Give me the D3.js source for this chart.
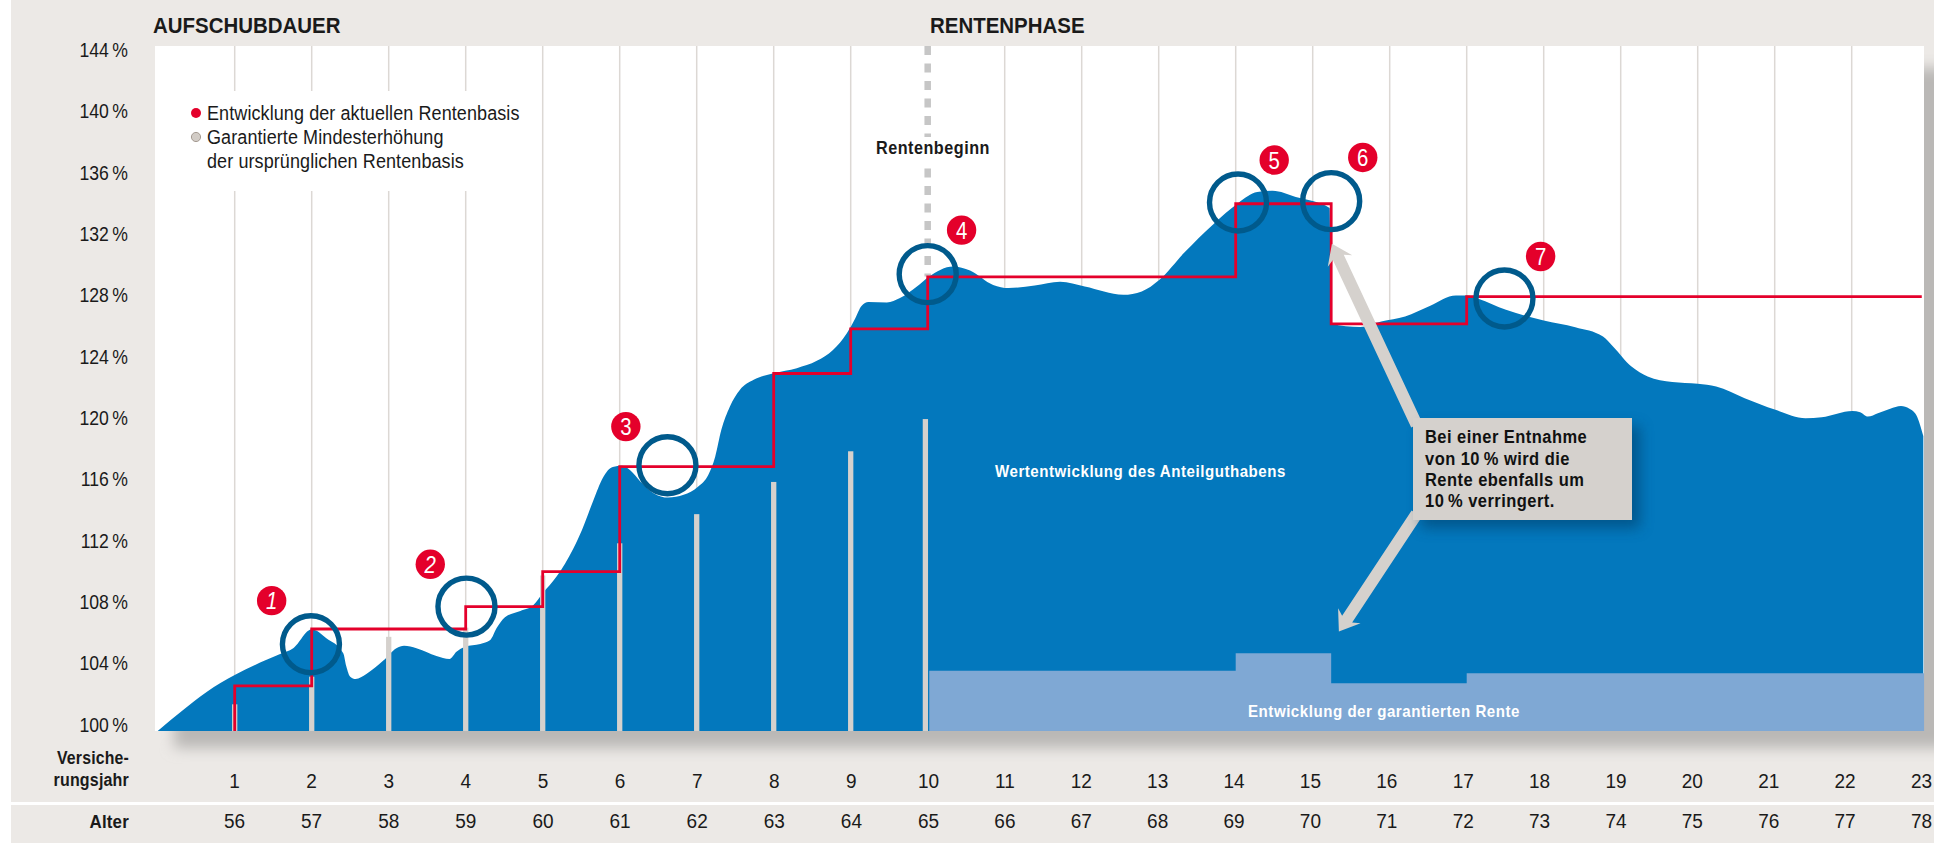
<!DOCTYPE html>
<html lang="de">
<head>
<meta charset="utf-8">
<title>Rentenbasis</title>
<script src="https://cdn.jsdelivr.net/npm/d3@7"></script>
<style>
  html, body { margin: 0; padding: 0; background: #fff; overflow: hidden; }
  svg { display: block; }
  text { font-family: "Liberation Sans", sans-serif; fill: #1a1a1a; }
  .bold { font-weight: 700; }
</style>
</head>
<body>
<div id="chart"></div>
<script>
// Data
const yTicks = [100, 104, 108, 112, 116, 120, 124, 128, 132, 136, 140, 144];
const years = d3.range(1, 24);
const ages = d3.range(56, 79);
const gridYears = [1, 2, 3, 4, 5, 6, 7, 8, 9, 11, 12, 13, 14, 15, 16, 17, 18, 19, 20, 21, 22];

// Fund value curve (Wertentwicklung des Anteilguthabens)
const curveYear = [0, .33, .64, 1, 1.33, 1.59, 1.76, 2, 2.19, 2.41, 2.45, 2.5, 2.57, 2.71, 2.93, 3.1, 3.2, 3.36, 3.62, 3.79, 3.88, 3.99, 4.19, 4.32, 4.4, 4.51, 4.71, 4.88, 5, 5.18, 5.4, 5.51, 5.66, 5.78, 5.91, 6.03, 6.14, 6.27, 6.44, 6.63, 6.83, 7.02, 7.15, 7.24, 7.32, 7.43, 7.56, 7.74, 8, 8.3, 8.56, 8.77, 8.95, 9.06, 9.14, 9.23, 9.47, 9.64, 9.86, 10.01, 10.33, 10.55, 10.85, 11.05, 11.39, 11.72, 12.04, 12.54, 12.78, 13.01, 13.33, 13.71, 14.03, 14.28, 14.48, 14.78, 15.22, 15.24, 15.62, 15.89, 16.2, 16.52, 16.86, 17, 17.15, 17.51, 18, 18.41, 18.77, 18.9, 19.14, 19.35, 19.67, 20, 20.24, 20.61, 21.01, 21.4, 21.61, 22.01, 22.11, 22.21, 22.34, 22.5, 22.64, 22.75, 22.84, 22.93];
const curveValue = [99.66, 101.03, 102.22, 103.31, 104.12, 104.68, 105.06, 106.29, 105.71, 104.73, 103.86, 103.2, 103.05, 103.38, 104.25, 105.06, 105.22, 105.06, 104.55, 104.36, 104.83, 105.16, 105.34, 105.6, 106.36, 107.08, 107.49, 107.88, 108.64, 109.73, 111.58, 112.77, 114.73, 116.16, 116.88, 116.95, 116.64, 115.92, 115.17, 114.88, 115.06, 115.6, 116.36, 117.55, 119.3, 120.81, 121.9, 122.56, 122.99, 123.32, 123.8, 124.51, 125.6, 126.58, 127.38, 127.64, 127.6, 127.89, 128.64, 129.26, 129.95, 129.69, 128.75, 128.54, 128.71, 128.95, 128.64, 128.1, 128.32, 129.08, 130.84, 132.71, 134.08, 134.8, 134.88, 134.48, 133.76, 126.21, 126, 126.36, 126.69, 127.38, 128.06, 128.06, 127.84, 127.12, 126.43, 125.99, 125.38, 124.73, 123.42, 122.77, 122.41, 122.3, 122.12, 121.36, 120.6, 120.06, 120.12, 120.53, 120.45, 120.16, 120.38, 120.68, 120.86, 120.68, 120.25, 118.9];

// Red line (Entwicklung der aktuellen Rentenbasis)
const baseYear = [1, 1, 2, 4, 5, 6, 8, 9, 10, 14, 15.24, 17, 22.91];
const baseValue = [99.66, 102.6, 106.31, 107.77, 110.05, 116.9, 122.97, 125.88, 129.27, 134.04, 126.21, 127.99, 127.99];

// Guaranteed minimum increase, grey bars
const barYear = [1, 2, 3, 4, 5, 6, 7, 8, 9, 9.97];
const barValue = [101.4, 103.2, 105.8, 106.4, 109.8, 111.9, 113.8, 115.9, 117.9, 120];

// Guaranteed pension, pale blue steps
const guaranteeYear = [10.02, 14, 15.24, 17, 22.94];
const guaranteeValue = [103.59, 104.73, 102.77, 103.42, 103.42];

// Annotations
const ringYear = [1.99, 4.01, 6.62, 10, 14.03, 15.24, 17.49];
const ringValue = [105.32, 107.77, 116.99, 129.45, 134.12, 134.21, 127.86];
const badgeYear = [1.48, 3.54, 6.08, 10.44, 14.5, 15.65, 17.96];
const badgeValue = [108.16, 110.53, 119.51, 132.32, 136.89, 137.06, 130.6];
const calloutLines = ["Bei einer Entnahme", "von 10\u2009% wird die", "Rente ebenfalls um", "10\u2009% verringert."];
const legendLines = ["Entwicklung der aktuellen Rentenbasis", "Garantierte Mindesterhöhung", "der ursprünglichen Rentenbasis"];

const width = 1934, height = 843;
const plot = { left: 155, right: 1924, top: 46, bottom: 731 };

const blue = "#0378bd", pale = "#7fa8d4", red = "#e4002b", ring = "#005a8c", stone = "#d5d1cd", page = "#ece9e6";

// Scales
const x = d3.scaleLinear().domain([1, 23]).range([234.7, 1928.7]);
const xLabel = d3.scaleLinear().domain([1, 10, 23]).range([234, 928, 1921]);
const y = d3.scaleLinear().domain([99.66, 144]).range([plot.bottom, 51]);

// The reference type is a condensed face, so squeeze the text to its width
function squeeze(sel, k) {
    sel.each(function () {
        d3.select(this)
            .attr("textLength", this.getComputedTextLength() * k)
            .attr("lengthAdjust", "spacingAndGlyphs");
    });
}

const svg = d3.select("#chart").append("svg")
    .attr("width", width)
    .attr("height", height);

const defs = svg.append("defs");
defs.append("filter").attr("id", "soft").attr("x", "-5%").attr("y", "-5%").attr("width", "110%").attr("height", "110%")
    .append("feGaussianBlur").attr("stdDeviation", 7);
defs.append("filter").attr("id", "softBox").attr("x", "-30%").attr("y", "-30%").attr("width", "160%").attr("height", "160%")
    .append("feGaussianBlur").attr("stdDeviation", 7);

// Page bands
svg.append("rect").attr("x", 11).attr("y", 0).attr("width", width - 11).attr("height", height).attr("fill", page);
svg.append("rect").attr("x", 11).attr("y", 802).attr("width", width - 11).attr("height", 3).attr("fill", "#fff");

// Drop shadow and white plot area
svg.append("rect")
    .attr("x", 174).attr("y", 68)
    .attr("width", 1800).attr("height", 680)
    .attr("fill", "#bab8b6")
    .attr("filter", "url(#soft)");
svg.append("rect")
    .attr("x", plot.left).attr("y", plot.top)
    .attr("width", plot.right - plot.left).attr("height", plot.bottom - plot.top)
    .attr("fill", "#fff");

// Vertical grid
svg.append("g").selectAll("line")
    .data(gridYears)
    .join("line")
    .attr("x1", d => x(d)).attr("x2", d => x(d))
    .attr("y1", plot.top).attr("y2", plot.bottom)
    .attr("stroke", "#dcd8d4")
    .attr("stroke-width", 1.5);

// Legend sits on a white patch over the grid
svg.append("rect").attr("x", 170).attr("y", 91).attr("width", 360).attr("height", 100).attr("fill", "#fff");

// Start of pension, dashed
svg.append("line")
    .attr("x1", x(10)).attr("x2", x(10))
    .attr("y1", plot.top).attr("y2", y(129.3))
    .attr("stroke", "#c6c6c6")
    .attr("stroke-width", 6.5)
    .attr("stroke-dasharray", "9 8.5");
svg.append("rect").attr("x", 872).attr("y", 137).attr("width", 122).attr("height", 26).attr("fill", "#fff");
svg.append("text").attr("class", "bold")
    .attr("x", 876).attr("y", 148).attr("dy", ".35em")
    .style("font-size", "18px").style("letter-spacing", ".55px")
    .text("Rentenbeginn")
    .call(squeeze, .9);

// Fund value area
const curveData = curveYear.map((d, i) => [d, curveValue[i]]);
svg.append("path")
    .attr("d", d3.area()
        .x(d => x(d[0]))
        .y0(y(99.66))
        .y1(d => y(d[1]))
        .curve(d3.curveMonotoneX)(curveData))
    .attr("fill", blue);

// Guaranteed pension
const guaranteeData = guaranteeYear.map((d, i) => [d, guaranteeValue[i]]);
svg.append("path")
    .attr("d", d3.area()
        .x(d => x(d[0]))
        .y0(y(99.66))
        .y1(d => y(d[1]))
        .curve(d3.curveStepAfter)(guaranteeData))
    .attr("fill", pale);

// Grey bars
svg.append("g").selectAll("rect")
    .data(barYear)
    .join("rect")
    .attr("x", d => x(d) - 2.65)
    .attr("y", (d, i) => y(barValue[i]))
    .attr("width", 5.3)
    .attr("height", (d, i) => y(99.66) - y(barValue[i]))
    .attr("fill", stone);

// Red step line
const baseData = baseYear.map((d, i) => [d, baseValue[i]]);
svg.append("path")
    .attr("d", d3.line()
        .x(d => x(d[0]))
        .y(d => y(d[1]))
        .curve(d3.curveStepAfter)(baseData))
    .attr("fill", "none")
    .attr("stroke", red)
    .attr("stroke-width", 2.8);

// Rings
svg.append("g").selectAll("circle")
    .data(ringYear)
    .join("circle")
    .attr("cx", d => x(d))
    .attr("cy", (d, i) => y(ringValue[i]))
    .attr("r", 28.5)
    .attr("fill", "none")
    .attr("stroke", ring)
    .attr("stroke-width", 5.4);

// Numbered badges
const badges = svg.append("g").selectAll("g")
    .data(badgeYear)
    .join("g")
    .attr("transform", (d, i) => `translate(${x(d)},${y(badgeValue[i])})`);
badges.append("circle").attr("r", 14.7).attr("fill", red);
badges.append("text")
    .attr("text-anchor", "middle")
    .attr("dy", ".36em")
    .style("font-size", "24px")
    .style("fill", "#fff")
    .style("font-style", (d, i) => i < 2 ? "italic" : "normal")
    .text((d, i) => i + 1)
    .call(squeeze, .85);

// Arrows out of the callout
function arrowPath(x1, y1, x2, y2) {
    const a = Math.atan2(y2 - y1, x2 - x1);
    const ux = Math.cos(a), uy = Math.sin(a), nx = -uy, ny = ux;
    const shaft = 6, wing = 13.5, len = 19, neck = 15;
    const p = (along, side) => [x2 - ux * along + nx * side, y2 - uy * along + ny * side];
    return d3.line()([[x1 + nx * shaft, y1 + ny * shaft], p(neck, shaft), p(len, wing), [x2, y2],
        p(len, -wing), p(neck, -shaft), [x1 - nx * shaft, y1 - ny * shaft]]) + "Z";
}
svg.append("path").attr("d", arrowPath(x(16.35), y(119.62), x(15.25), y(131.43))).attr("fill", stone);
svg.append("path").attr("d", arrowPath(x(16.35), y(113.82), x(15.34), y(106.14))).attr("fill", stone);

// Callout
svg.append("rect")
    .attr("x", 1421).attr("y", 426).attr("width", 219).attr("height", 102)
    .attr("fill", "#063a63").attr("opacity", .55)
    .attr("filter", "url(#softBox)");
svg.append("rect")
    .attr("x", 1413).attr("y", 418).attr("width", 219).attr("height", 102)
    .attr("fill", stone);
svg.append("g").selectAll("text")
    .data(calloutLines)
    .join("text")
    .attr("class", "bold")
    .attr("x", 1425)
    .attr("y", (d, i) => 437 + i * 21.2)
    .attr("dy", ".35em")
    .style("font-size", "18px")
    .style("letter-spacing", ".5px")
    .style("fill", "#111")
    .text(d => d)
    .call(squeeze, .916);

// Labels inside the chart
svg.append("text").attr("class", "bold")
    .attr("x", 995).attr("y", 471).attr("dy", ".35em")
    .style("font-size", "17px").style("letter-spacing", ".6px").style("fill", "#fff")
    .text("Wertentwicklung des Anteilguthabens")
    .call(squeeze, .887);
svg.append("text").attr("class", "bold")
    .attr("x", 1248).attr("y", 711).attr("dy", ".35em")
    .style("font-size", "17px").style("letter-spacing", ".6px").style("fill", "#fff")
    .text("Entwicklung der garantierten Rente")
    .call(squeeze, .887);

// Legend
svg.append("circle").attr("cx", 196).attr("cy", 113).attr("r", 5).attr("fill", red);
svg.append("circle").attr("cx", 196).attr("cy", 137).attr("r", 4.6).attr("fill", "#d2ccc6").attr("stroke", "#a59b92").attr("stroke-width", 1);
svg.append("g").selectAll("text")
    .data(legendLines)
    .join("text")
    .attr("x", 207)
    .attr("y", (d, i) => 113 + i * 24)
    .attr("dy", ".35em")
    .style("font-size", "20px")
    .style("letter-spacing", ".1px")
    .text(d => d)
    .call(squeeze, .9);

// Section heads
svg.append("text").attr("class", "bold")
    .attr("x", 153).attr("y", 25).attr("dy", ".35em")
    .style("font-size", "22px").text("AUFSCHUBDAUER")
    .call(squeeze, .93);
svg.append("text").attr("class", "bold")
    .attr("x", 930).attr("y", 25).attr("dy", ".35em")
    .style("font-size", "22px").text("RENTENPHASE")
    .call(squeeze, .93);

// Y axis
const yAxis = svg.append("g")
    .attr("transform", "translate(128,-1)")
    .call(d3.axisLeft(y).tickValues(yTicks).tickSize(0).tickPadding(0).tickFormat(d => d + "\u2009%"));
yAxis.select(".domain").remove();
yAxis.selectAll("text").style("font-size", "20px").style("font-family", null).call(squeeze, .88);

// Year row
const yearAxis = svg.append("g")
    .attr("transform", "translate(0,781)")
    .call(d3.axisBottom(xLabel).tickValues(years).tickSize(0).tickPadding(0).tickFormat(d3.format("d")));
yearAxis.select(".domain").remove();
yearAxis.selectAll("text").attr("y", 0).attr("dy", ".35em").style("font-size", "20px").style("font-family", null).call(squeeze, .95);

// Age row
const ageAxis = svg.append("g")
    .attr("transform", "translate(0,821)")
    .call(d3.axisBottom(xLabel).tickValues(years).tickSize(0).tickPadding(0).tickFormat(d => ages[d - 1]));
ageAxis.select(".domain").remove();
ageAxis.selectAll("text").attr("y", 0).attr("dy", ".35em").style("font-size", "20px").style("font-family", null).call(squeeze, .95);

// Row titles
[["Versiche-", 758, .88], ["rungsjahr", 780, .89], ["Alter", 822, .94]].forEach(([t, py, k]) => {
    svg.append("text").attr("class", "bold")
        .attr("x", 129).attr("y", py).attr("dy", ".35em")
        .attr("text-anchor", "end")
        .style("font-size", "18px").style("letter-spacing", ".2px")
        .text(t)
        .call(squeeze, k);
});
</script>
</body>
</html>
